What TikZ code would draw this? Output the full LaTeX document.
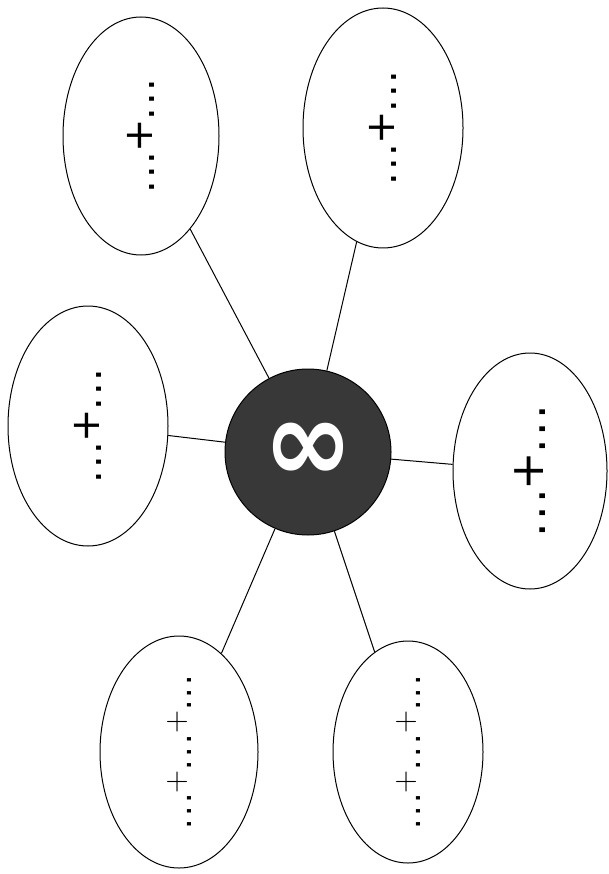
\documentclass[tikz,border=0pt]{standalone}
\usepackage{fontspec}
\usepackage{graphicx}
\usepackage{tikz}
\usetikzlibrary{shapes.geometric}
\newfontfamily\symfont{DejaVu Sans}

\tikzset{bubble/.style={draw, ellipse, inner sep=0pt, line width=1pt, fill=white},
         hubdisc/.style={draw, circle, fill=black!78, inner sep=0pt, minimum size=166pt, line width=1pt, text=white},
         spoke/.style={line width=1pt}}
\newcommand{\dotrun}[1]{.\kern#1.\kern#1.}
\newcommand{\onesum}[1]{\rotatebox{90}{\symfont\fontsize{#1}{#1}\selectfont
   \dotrun{.05em}\kern-.035em\raisebox{.06em}{+}\kern-.035em\dotrun{.05em}}}
\newcommand{\twoplus}{\raisebox{6pt}{\rmfamily\fontsize{32}{32}\selectfont+}}
\newcommand{\twosum}{\rotatebox{90}{\symfont\fontsize{33}{33}\selectfont
   \dotrun{2.3pt}\twoplus\dotrun{2.3pt}\twoplus\dotrun{2.3pt}}}

\begin{document}
\begin{tikzpicture}[x=1pt, y=-1pt]
             \useasboundingbox (0,0) rectangle (608,874);

             \node[hubdisc] (hub) at (308,452) {\symfont\bfseries\fontsize{108}{108}\selectfont\scalebox{1}[1.07]{∞}};

             \node[bubble, minimum width=156pt, minimum height=238pt] (tl) at (141,136) {\onesum{40}};
             \node[bubble, minimum width=160pt, minimum height=240pt] (tr) at (383,128) {\onesum{40}};
             \node[bubble, minimum width=160pt, minimum height=240pt] (l) at (88,426) {\onesum{40}};
             \node[bubble, minimum width=154pt, minimum height=236pt] (r) at (530,471) {\onesum{46}};
             \node[bubble, minimum width=158pt, minimum height=232pt] (bl) at (179,752) {\twosum};
             \node[bubble, minimum width=150pt, minimum height=222pt] (br) at (408,752) {\twosum};

             \draw[spoke] (hub) -- (tl);
             \draw[spoke] (hub) -- (tr);
             \draw[spoke] (hub) -- (l);
             \draw[spoke] (hub) -- (r);
             \draw[spoke] (hub) -- (bl);
             \draw[spoke] (hub) -- (br);
             \end{tikzpicture}
\end{document}
